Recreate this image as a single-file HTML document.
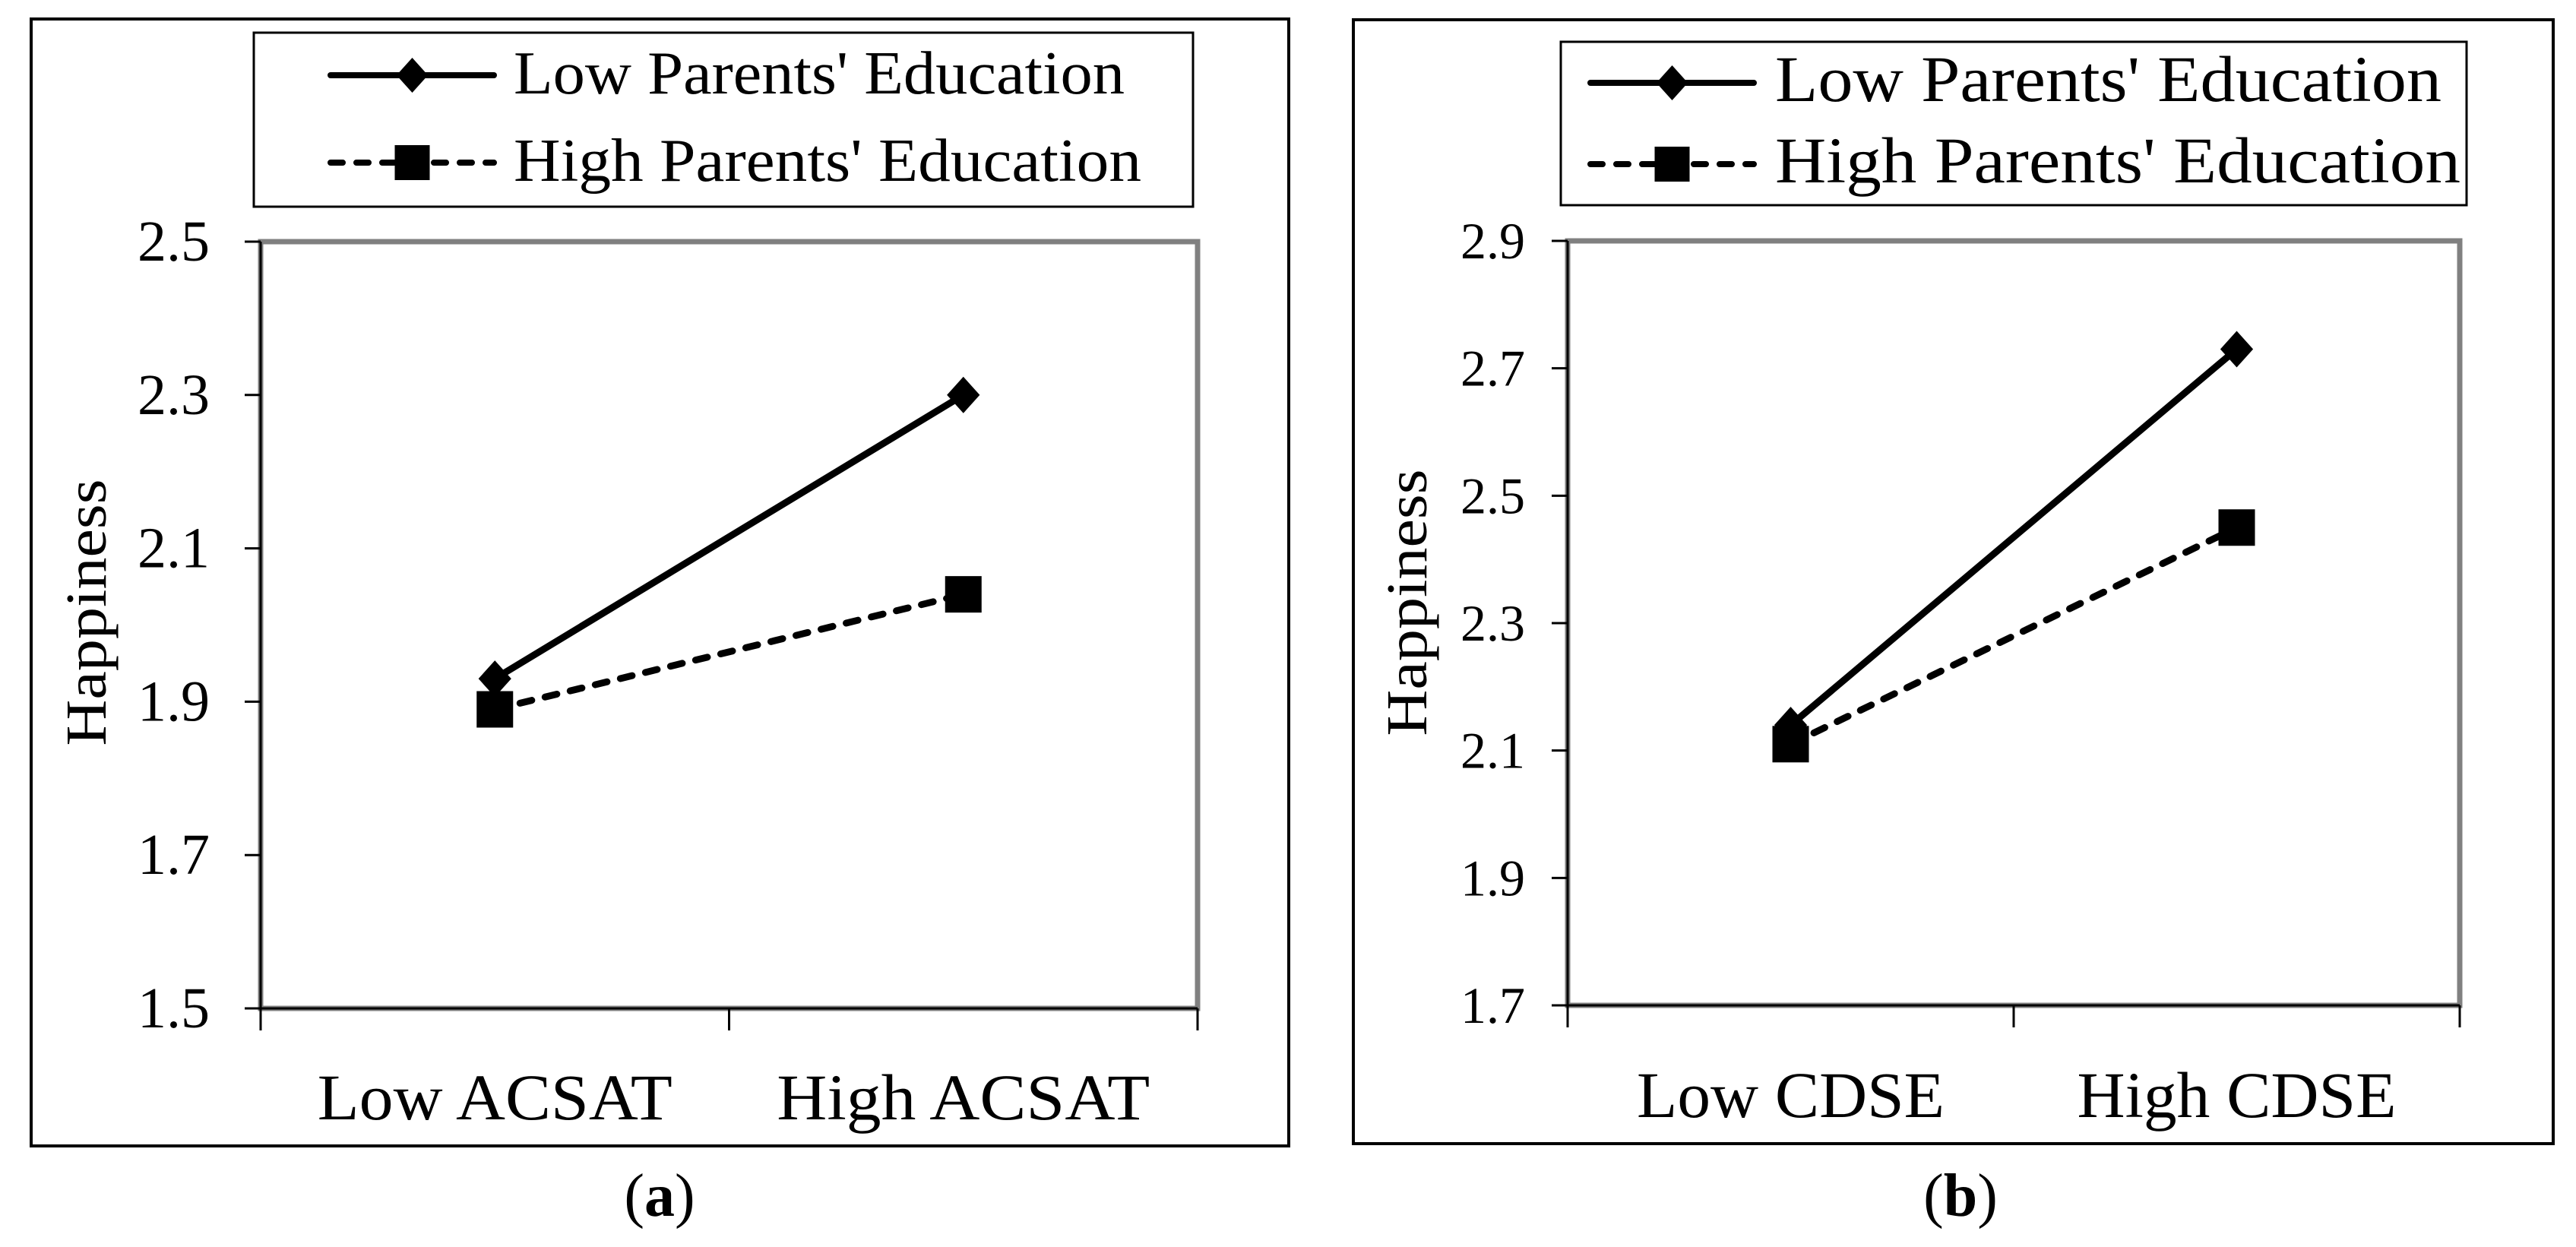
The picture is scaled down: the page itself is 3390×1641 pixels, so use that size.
<!DOCTYPE html>
<html><head><meta charset="utf-8"><style>
html,body{margin:0;padding:0;background:#fff;}
svg{display:block;font-family:"Liberation Serif",serif;}
</style></head><body>
<svg id="fig" width="3390" height="1641" viewBox="0 0 3390 1641" xmlns="http://www.w3.org/2000/svg"></svg>
<script>
const categoriesA = ["Low ACSAT", "High ACSAT"];
const lowParentsA = [1.93, 2.30];
const highParentsA = [1.89, 2.04];
const yTicksA = ["1.5", "1.7", "1.9", "2.1", "2.3", "2.5"];
const categoriesB = ["Low CDSE", "High CDSE"];
const lowParentsB = [2.14, 2.73];
const highParentsB = [2.11, 2.45];
const yTicksB = ["1.7", "1.9", "2.1", "2.3", "2.5", "2.7", "2.9"];
const seriesNames = ["Low Parents' Education", "High Parents' Education"];

const NS = "http://www.w3.org/2000/svg";
const svg = document.getElementById('fig');
function mk(tag, attrs, parent) {
  const e = document.createElementNS(NS, tag);
  for (const k in attrs) e.setAttribute(k, attrs[k]);
  (parent || svg).appendChild(e);
  return e;
}
function diamond(cx, cy, r, parent) {
  return mk('polygon', {points: `${cx},${cy-r} ${cx+r*0.9},${cy} ${cx},${cy+r} ${cx-r*0.9},${cy}`, fill: '#000'}, parent);
}

const panels = [
  {id:'a', cats: categoriesA, lo: lowParentsA, hi: highParentsA, ticks: yTicksA,
   box:[41,25,1696,1508], leg:[334,43,1570,272], legRow:[99,214], legLine:[435,650], legText:676, legFont:80, legLen:[804,826],
   plot:[343,318,1576,1327], tickFont:76, tickRight:276, tickOff:25, catFont:86, catLen:[467,491], catBase:1473,
   yLab:[114,806], yLen:351, capX:868},
  {id:'b', cats: categoriesB, lo: lowParentsB, hi: highParentsB, ticks: yTicksB,
   box:[1781,26,3360,1505], leg:[2054,55,3246,270], legRow:[109,216], legLine:[2093,2308], legText:2336, legFont:86, legLen:[877,902],
   plot:[2063,317,3237,1323], tickFont:68, tickRight:2007, tickOff:23, catFont:86, catLen:[405,420], catBase:1470,
   yLab:[1852,793], yLen:351, capX:2580}
];

panels.forEach(p => {
  const g = mk('g', {});
  
  
  const [bx0,by0,bx1,by1] = p.box;
  const ob = mk('rect', {x:bx0,y:by0,width:bx1-bx0,height:by1-by0,fill:'none',stroke:'#000','stroke-width':4}, g);
  
  

  const [lx0,ly0,lx1,ly1] = p.leg;
  const lg = mk('g', {}, g);
  
  
  mk('rect', {x:lx0,y:ly0,width:lx1-lx0,height:ly1-ly0,fill:'#fff',stroke:'#000','stroke-width':3}, lg);
  const mid = (p.legLine[0]+p.legLine[1])/2;
  seriesNames.forEach((name, i) => {
    const eg = mk('g', {}, lg);
    
    
    const y = p.legRow[i];
    const ln = mk('line', {x1:p.legLine[0],y1:y,x2:p.legLine[1],y2:y,stroke:'#000','stroke-width':8,'stroke-linecap':'round'}, eg);
    if (i === 1) ln.setAttribute('stroke-dasharray', '16 18');
    if (i === 0) diamond(mid, y, 23, eg);
    else mk('rect', {x:mid-23,y:y-23,width:46,height:46,fill:'#000'}, eg);
    const t = mk('text', {x:p.legText,y:y+24,'font-size':p.legFont,textLength:p.legLen[i],lengthAdjust:'spacingAndGlyphs',fill:'#000'}, eg);
    t.textContent = name;
  });

  const [px0,py0,px1,py1] = p.plot;
  const pa = mk('rect', {x:px0,y:py0,width:px1-px0,height:py1-py0,fill:'#fff',stroke:'#808080','stroke-width':7}, g);
  
  
  const yMin = parseFloat(p.ticks[0]), yMax = parseFloat(p.ticks[p.ticks.length-1]);
  const ys = v => py1 - (v - yMin) / (yMax - yMin) * (py1 - py0);
  const n = p.cats.length;
  const bandW = (px1 - px0) / n;
  const xs = i => px0 + bandW * (i + 0.5);

  const ya = mk('line', {x1:px0,y1:py0,x2:px0,y2:py1,stroke:'#000','stroke-width':3}, g);
  
  
  const xa = mk('line', {x1:px0,y1:py1,x2:px1,y2:py1,stroke:'#000','stroke-width':3}, g);
  
  

  p.ticks.forEach(tl => {
    const v = parseFloat(tl), y = ys(v);
    mk('line', {x1:px0-21,y1:y,x2:px0,y2:y,stroke:'#000','stroke-width':3}, g);
    const t = mk('text', {x:p.tickRight,y:y+p.tickOff,'font-size':p.tickFont,'text-anchor':'end',fill:'#000'}, g);
    
    
    t.textContent = tl;
  });
  for (let i = 0; i <= n; i++) {
    const x = px0 + bandW * i;
    mk('line', {x1:x,y1:py1,x2:x,y2:py1+29,stroke:'#000','stroke-width':3}, g);
  }
  p.cats.forEach((c, i) => {
    const t = mk('text', {x:xs(i),y:p.catBase,'font-size':p.catFont,'text-anchor':'middle',textLength:p.catLen[i],lengthAdjust:'spacingAndGlyphs',fill:'#000'}, g);
    
    
    t.textContent = c;
  });

  const yt = mk('text', {x:p.yLab[0],y:p.yLab[1],'font-size':76,'text-anchor':'middle',textLength:p.yLen,lengthAdjust:'spacingAndGlyphs',transform:`rotate(-90 ${p.yLab[0]} ${p.yLab[1]})`,'dominant-baseline':'central',fill:'#000'}, g);
  
  
  yt.textContent = 'Happiness';

  const hiPts = p.hi.map((v,i)=>`${xs(i)},${ys(v)}`).join(' ');
  const hl = mk('polyline', {points:hiPts,fill:'none',stroke:'#000','stroke-width':9,'stroke-dasharray':'16 18','stroke-linecap':'round'}, g);
  
  
  const loPts = p.lo.map((v,i)=>`${xs(i)},${ys(v)}`).join(' ');
  const ll = mk('polyline', {points:loPts,fill:'none',stroke:'#000','stroke-width':9,'stroke-linecap':'round'}, g);
  
  
  p.lo.forEach((v,i) => {
    const d = diamond(xs(i), ys(v), 24, g);
    
    
  });
  p.hi.forEach((v,i) => {
    const r = mk('rect', {x:xs(i)-24,y:ys(v)-24,width:48,height:48,fill:'#000'}, g);
    
    
  });

  const cap = mk('text', {x:p.capX,y:1600,'font-size':80,'text-anchor':'middle',fill:'#000'}, g);
  
  
  const t1 = mk('tspan', {}, cap); t1.textContent = '(';
  const t2 = mk('tspan', {'font-weight':'bold'}, cap); t2.textContent = p.id;
  const t3 = mk('tspan', {}, cap); t3.textContent = ')';
});
</script>
</body></html>
